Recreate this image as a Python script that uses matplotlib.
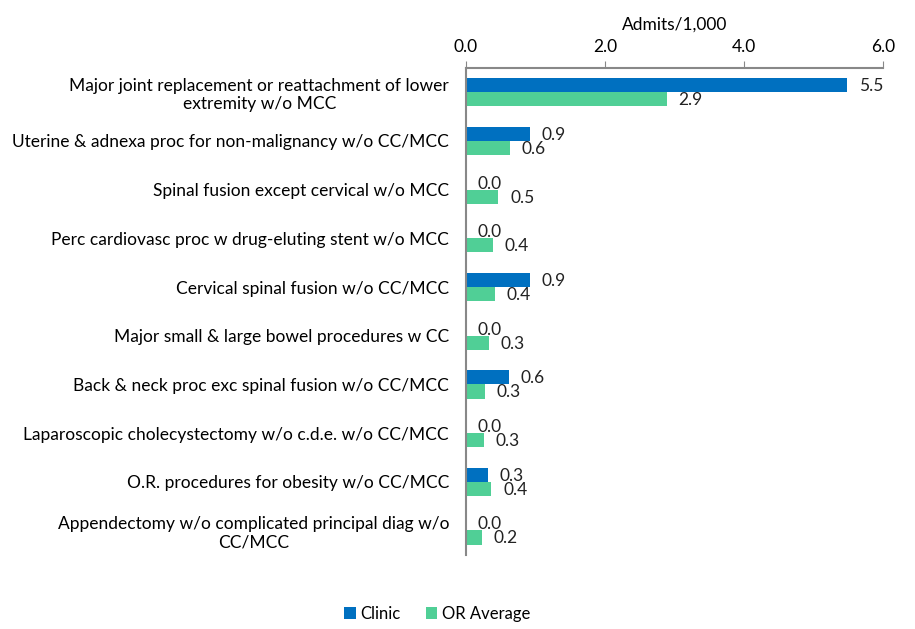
import matplotlib.pyplot as plt
import numpy as np

categories = [
    "Major joint replacement or reattachment of lower\nextremity w/o MCC",
    "Uterine & adnexa proc for non-malignancy w/o CC/MCC",
    "Spinal fusion except cervical w/o MCC",
    "Perc cardiovasc proc w drug-eluting stent w/o MCC",
    "Cervical spinal fusion w/o CC/MCC",
    "Major small & large bowel procedures w CC",
    "Back & neck proc exc spinal fusion w/o CC/MCC",
    "Laparoscopic cholecystectomy w/o c.d.e. w/o CC/MCC",
    "O.R. procedures for obesity w/o CC/MCC",
    "Appendectomy w/o complicated principal diag w/o\nCC/MCC",
]
clinic = [5.48, 0.92, 0.0, 0.0, 0.92, 0.0, 0.62, 0.0, 0.32, 0.0]
or_average = [2.89, 0.63, 0.47, 0.39, 0.42, 0.33, 0.27, 0.26, 0.37, 0.23]
series_names = ["Clinic", "OR Average"]
colors = ["#0070C0", "#50CF96"]

plt.rcParams['font.family'] = ['Lato', 'DejaVu Sans']
fs = 12.5

fig = plt.figure(figsize=(9.15, 6.29), dpi=100)
ax = fig.add_axes([0.509, 0.118, 0.456, 0.774])

y = np.arange(len(categories))
h = 0.29
b1 = ax.barh(y - h / 2, clinic, height=h, color=colors[0], label=series_names[0])
b2 = ax.barh(y + h / 2, or_average, height=h, color=colors[1], label=series_names[1])

for bars, vals in ((b1, clinic), (b2, or_average)):
    for bar, v in zip(bars, vals):
        ax.text(v + 0.17, bar.get_y() + bar.get_height() / 2 + 0.02, f"{v:.1f}",
                va='center', ha='left', fontsize=fs, color='#222222')

ax.set_xlim(0, 6)
ax.set_ylim(len(categories) - 0.5, -0.5)
ax.set_xticks([0, 2, 4, 6])
ax.set_xticklabels(["0.0", "2.0", "4.0", "6.0"])
ax.xaxis.tick_top()
ax.xaxis.set_label_position('top')
ax.set_xlabel("Admits/1,000", fontsize=fs, labelpad=7)
ax.tick_params(axis='x', direction='out', length=5, color='#888888',
               labelsize=fs, pad=4)
ax.set_yticks(y)
ax.set_yticklabels(categories, fontsize=fs, multialignment='center')
ax.tick_params(axis='y', length=0, pad=12)

for s in ('right', 'bottom'):
    ax.spines[s].set_visible(False)
for s in ('top', 'left'):
    ax.spines[s].set_color('#888888')
    ax.spines[s].set_linewidth(1.5)

fig.legend(handles=[b1, b2], loc='center', bbox_to_anchor=(0.478, 0.024),
           ncol=2, frameon=False, fontsize=12, handlelength=0.7,
           handleheight=0.7, columnspacing=1.5, handletextpad=0.3)

fig.savefig("out.png", dpi=100)
